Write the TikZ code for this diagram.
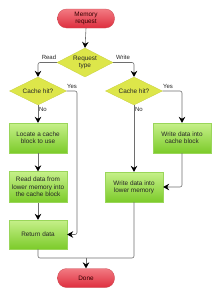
\documentclass[tikz,border=0pt]{standalone}
\usepackage{fontspec}
\setmainfont{Liberation Sans}
\usetikzlibrary{shapes.geometric,arrows.meta}
\definecolor{termtop}{HTML}{F27A82}
\definecolor{termbot}{HTML}{DE2E3E}
\definecolor{termdraw}{HTML}{C84A52}
\definecolor{boxtop}{HTML}{C6F08A}
\definecolor{boxbot}{HTML}{7CCB2A}
\definecolor{boxdraw}{HTML}{9AD65A}
\definecolor{diafill}{HTML}{DDE64A}
\definecolor{diadraw}{HTML}{C8D040}
\definecolor{linegray}{HTML}{6E6E6E}
\tikzset{
  every node/.style={font=\fontsize{6.4}{7.3}\selectfont, text=black!85, align=center},
  term/.style={rounded corners=9pt, minimum width=57pt, minimum height=19pt, inner sep=0pt,
    top color=termtop, bottom color=termbot, draw=termdraw, line width=0.3pt, text=black!80!red},
  procbox/.style={minimum width=58pt, minimum height=30pt, inner sep=0pt,
    top color=boxtop, bottom color=boxbot, draw=boxdraw, line width=0.3pt},
  decision/.style={diamond, minimum width=57pt, minimum height=28pt, inner sep=0pt, aspect=2,
    fill=diafill, draw=diadraw, line width=0.3pt},
  conn/.style={draw=linegray, line width=0.6pt, rounded corners=2pt},
  arr/.style={conn, -{Stealth[length=6pt,width=6.5pt,inset=2pt,fill=black,color=black]}},
  lbl/.style={font=\fontsize{6}{7}\selectfont, inner sep=0pt}
}
\begin{document}
\begin{tikzpicture}[x=1pt,y=-1pt]
\useasboundingbox (0,0) rectangle (220,297);
\node[term] (mem) at (86,18.5) {Memory\\request};
\node[decision, minimum width=56pt, minimum height=29pt] (req) at (85,62.5) {Request\\type};
\node[decision] (lhit) at (38,91) {Cache hit?};
\node[decision] (rhit) at (134,91) {Cache hit?};
\node[procbox] (loc) at (38,138) {Locate a cache\\block to use};
\node[procbox] (wcb) at (182,138) {Write data into\\cache block};
\node[procbox, minimum height=31pt] (rd) at (38,187) {Read data from\\lower memory into\\the cache block};
\node[procbox] (wlm) at (134,187) {Write data into\\lower memory};
\node[procbox, minimum height=29pt] (ret) at (38,234.5) {Return data};
\node[term] (done) at (86,278) {Done};

\coordinate (ly) at (77,91);
\coordinate (jn) at (86,258);

\draw[arr] (mem.south) -- (req.north);
\draw[arr] (req.west) -| (lhit.north);
\draw[arr] (req.east) -| (rhit.north);
\draw[arr] (lhit.south) -- (loc.north);
\draw[arr] (loc.south) -- (rd.north);
\draw[arr] (rd.south) -- (ret.north);
\draw[arr] (lhit.east) -- (ly) |- (ret.east);
\draw[arr] (rhit.east) -| (wcb.north);
\draw[arr] (rhit.south) -- (wlm.north);
\draw[arr] (wcb.south) |- (wlm.east);
\draw[conn] (ret.south) |- (jn);
\draw[conn] (wlm.south) |- (jn);
\draw[arr] (jn) -- (done.north);

\node[lbl] (lread) at (49,57.5) {Read};
\node[lbl] (lwrite) at (123,57.5) {Write};
\node[lbl] (lyes1) at (72,86) {Yes};
\node[lbl] (lyes2) at (168,86) {Yes};
\node[lbl] (lno1) at (43,109.5) {No};
\node[lbl] (lno2) at (139,109.5) {No};
\end{tikzpicture}
\end{document}
